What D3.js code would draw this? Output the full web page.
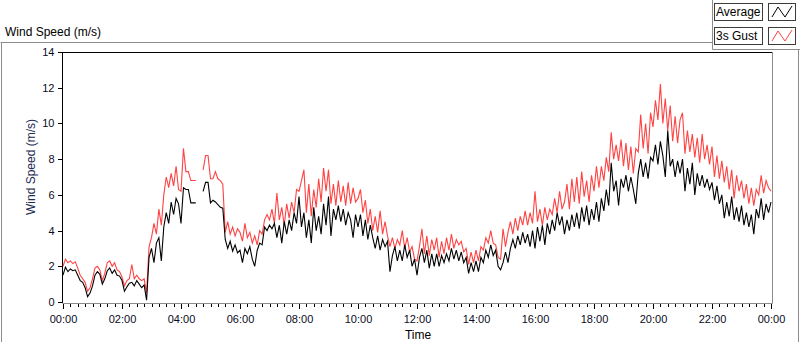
<!DOCTYPE html>
<html><head><meta charset="utf-8">
<script src="https://cdn.jsdelivr.net/npm/d3@7"></script>
<style>
html,body{margin:0;padding:0;background:#fff;}
svg{display:block;font-family:"Liberation Sans",Arial,sans-serif;}
</style></head><body>
<svg id="c" width="800" height="342"></svg>
<script>
// ---- data (one sample every 5 minutes, 00:00 .. 24:00; null = no data) ----
const sampleStepMinutes = 5;
const avgSpeed = [
 1.5,1.95,1.7,1.85,1.75,1.8,1.5,1.2,1.1,0.8,0.3,0.5,
 0.9,1.5,1.7,1.55,1.0,1.3,1.75,1.9,1.6,1.8,1.5,1.45,
 1.2,0.6,0.85,1.05,1.1,0.9,1.2,1.0,0.8,0.95,0.1,2.5,
 3.0,2.2,3.3,3.6,2.3,4.2,5.0,4.4,5.6,4.9,5.8,5.5,
 4.4,6.4,6.3,6.3,5.55,5.55,5.55,null,null,6.2,6.7,6.7,
 5.55,5.7,5.6,5.45,5.3,5.25,3.5,3.0,3.4,2.85,3.2,2.75,
 2.9,2.2,3.0,2.7,3.1,2.4,2.0,2.9,3.3,3.2,4.2,4.0,
 4.3,4.1,4.4,3.6,4.3,3.3,4.5,3.8,4.6,4.0,5.0,4.4,
 5.9,4.2,5.0,3.6,4.6,3.3,5.3,4.0,4.8,3.8,5.5,4.3,
 5.9,3.7,5.2,4.6,5.4,4.5,5.2,4.3,5.0,4.6,3.6,4.9,
 4.2,4.9,3.7,4.6,3.5,4.3,3.6,3.0,3.7,2.9,3.5,3.1,
 3.4,1.7,2.6,3.1,2.3,2.9,2.3,3.2,2.5,2.9,2.0,2.4,
 1.5,2.5,3.0,2.2,2.9,1.9,2.7,2.0,2.7,2.0,2.6,2.2,
 2.7,2.3,3.0,2.4,2.9,2.3,2.8,2.2,2.5,1.6,2.2,1.7,
 2.3,1.7,2.5,2.2,2.9,2.5,3.2,2.6,2.9,2.0,1.8,2.2,
 2.8,2.2,3.0,3.5,3.0,3.7,3.2,3.9,3.3,3.8,3.1,4.0,
 3.0,4.2,3.4,4.3,3.2,4.4,3.8,4.6,4.0,5.0,4.3,4.8,
 3.8,4.6,4.0,4.9,4.2,5.0,4.1,5.3,4.5,5.4,4.3,5.2,
 4.6,5.6,4.5,5.8,5.1,6.3,5.4,7.8,6.2,6.8,5.4,6.9,
 6.4,7.1,6.2,7.0,6.3,5.5,7.2,8.0,7.0,7.8,6.9,8.1,
 7.9,8.8,7.7,9.0,8.2,7.0,9.6,7.6,8.0,7.0,7.9,7.2,
 8.0,6.2,7.5,6.6,7.8,6.0,7.2,6.5,7.1,6.4,6.9,6.3,
 6.7,5.7,6.5,5.5,6.0,4.7,5.6,4.8,5.9,4.6,5.3,4.5,
 5.4,4.3,5.0,4.2,4.9,3.8,5.2,4.7,5.8,4.6,5.5,5.0,
 5.6
];
const gustSpeed = [
 2.0,2.4,2.2,2.3,2.15,2.25,1.9,1.5,1.3,1.1,0.6,0.8,
 1.3,1.9,2.0,1.8,1.2,1.6,2.2,2.3,2.0,2.2,1.8,1.7,
 1.4,0.9,1.2,1.3,2.1,1.3,1.5,1.3,1.2,1.3,0.5,3.1,
 3.6,4.4,3.8,5.2,4.3,6.0,7.0,6.4,7.2,6.5,7.6,6.3,
 6.2,8.6,7.3,7.3,6.8,6.8,6.8,null,null,7.4,8.2,8.2,
 6.9,6.9,7.3,6.9,6.8,6.6,3.9,4.5,3.8,4.2,3.7,4.1,
 3.9,3.4,4.4,3.6,3.9,3.3,3.7,3.2,4.0,3.8,4.6,4.9,
 4.6,5.2,4.4,6.1,4.6,5.3,4.3,5.5,4.7,5.6,5.0,6.3,
 6.2,6.8,7.4,5.0,6.6,4.8,6.3,5.3,6.9,5.6,7.5,6.2,
 7.4,5.5,6.6,5.4,6.8,5.6,6.5,5.4,6.7,5.5,6.4,5.6,
 5.8,6.3,5.0,5.7,4.4,5.2,4.0,4.8,3.9,5.1,3.8,4.5,
 3.7,3.1,3.6,3.0,3.5,3.2,4.0,3.0,3.6,2.8,3.1,2.4,
 2.3,3.1,4.1,2.7,3.7,2.6,3.5,2.9,3.6,2.5,3.4,2.7,
 3.6,2.9,3.8,3.0,3.5,3.2,3.4,2.8,3.0,2.1,2.8,2.2,
 2.9,2.3,3.1,2.9,3.6,3.3,4.0,3.3,3.2,2.5,2.4,4.1,
 3.1,3.9,4.5,3.8,4.7,4.0,4.8,4.3,5.1,4.3,5.0,4.4,
 6.2,4.5,5.2,4.3,5.3,4.6,5.2,4.9,5.8,5.0,6.2,5.2,
 5.6,6.6,5.2,6.9,5.6,7.0,5.5,7.3,5.9,6.8,5.6,7.1,
 6.2,7.6,6.4,7.6,6.8,8.1,7.3,9.5,8.0,8.8,7.9,9.1,
 7.6,8.9,7.4,8.7,7.2,8.6,8.4,10.5,8.6,10.0,8.3,10.6,
 9.8,11.3,10.2,12.2,10.0,11.4,9.6,11.0,9.0,10.4,8.9,10.2,
 10.6,8.3,9.6,8.4,9.4,8.1,9.2,7.8,9.4,8.0,8.8,7.7,
 8.7,7.0,8.2,6.9,7.9,6.7,7.6,6.3,7.4,5.8,7.1,6.2,
 6.8,5.8,6.6,5.5,6.4,5.4,6.3,6.0,7.1,6.1,6.8,6.4,
 6.2
];
const seriesNames = ["Average", "3s Gust"];
const seriesColors = ["#000000", "#ff4242"];
const yTicks = [0, 2, 4, 6, 8, 10, 12, 14];
const xMajorTicks = [0, 2, 4, 6, 8, 10, 12, 14, 16, 18, 20, 22, 24];
const chartTitle = "Wind Speed (m/s)";
const yTitle = "Wind Speed (m/s)";
const xTitle = "Time";

// ---- layout ----
const svg = d3.select("#c");
const L = 63, R = 771, T = 52, B = 302;
const x = d3.scaleLinear().domain([0, 24]).range([L, R]);
const y = d3.scaleLinear().domain([0, 14]).range([B, T]);

// outer frame
svg.append("path").attr("d", "M0.5,42.5H712.5 M1.5,42.5V342 M798.5,49V342")
  .attr("stroke", "#8c8c8c").attr("fill", "none");

svg.append("text").attr("x", 5).attr("y", 36).attr("font-size", 12).attr("fill", "#000").text(chartTitle);

// plot frame
svg.append("path").attr("d", `M${L-0.5},${T+0.5}H${R+1.5}`).attr("stroke", "#000");
svg.append("path").attr("d", `M${R+1.5},${T}V${B+1.5}`).attr("stroke", "#8c8c8c");
svg.append("path").attr("d", `M${L-0.5},${B+1.5}H${R+1.5}`).attr("stroke", "#8c8c8c");

// y axis
const yAxis = svg.append("g").attr("transform", `translate(${L-0.5},0)`)
  .call(d3.axisLeft(y).tickValues(yTicks).tickSize(5).tickPadding(3).tickFormat(d3.format("d")));
yAxis.select(".domain").attr("d", `M0,${T}V${B+1}`).attr("stroke", "#000");
yAxis.selectAll("text").attr("font-size", 11).attr("font-family", "Liberation Sans, Arial, sans-serif").attr("fill", "#0a0a1e");

// x axis: major + minor ticks
const hhmm = h => String(h % 24).padStart(2, "0") + ":00";
const xMinorTicks = d3.range(0, 24 * 4 + 1).map(i => i / 4).filter(v => v % 2 !== 0);
const xMin = svg.append("g").attr("transform", `translate(0,${B+2})`)
  .call(d3.axisBottom(x).tickValues(xMinorTicks).tickSize(3).tickFormat(""));
xMin.select(".domain").remove();
const xMaj = svg.append("g").attr("transform", `translate(0,${B+2})`)
  .call(d3.axisBottom(x).tickValues(xMajorTicks).tickSize(5).tickPadding(6).tickFormat(hhmm));
xMaj.select(".domain").remove();
xMaj.selectAll("text").attr("font-size", 11).attr("font-family", "Liberation Sans, Arial, sans-serif").attr("fill", "#0a0a1e");
svg.selectAll(".tick line").attr("shape-rendering", "crispEdges");

svg.append("text").attr("x", (L + R) / 2 + 1).attr("y", 339).attr("text-anchor", "middle")
  .attr("font-size", 12).attr("fill", "#000").text(xTitle);
svg.append("text").attr("transform", "translate(35,167) rotate(-90)").attr("text-anchor", "middle")
  .attr("font-size", 12).attr("fill", "#1c2c50").text(yTitle);

// series
const line = d3.line()
  .defined(d => d != null)
  .x((d, i) => x(i * sampleStepMinutes / 60))
  .y(d => y(d));
const plot = svg.append("g");
[[gustSpeed, seriesColors[1]], [avgSpeed, seriesColors[0]]].forEach(([data, col]) => {
  plot.append("path").attr("d", line(data)).attr("fill", "none").attr("stroke", col)
    .attr("stroke-width", 1.1).attr("stroke-linejoin", "miter");
});

// legend
svg.append("path").attr("d", "M712.5,0V49.5H800").attr("stroke", "#8c8c8c").attr("fill", "none");
const icon = d3.line();
seriesNames.forEach((name, k) => {
  const y0 = 3 + k * 24;
  svg.append("rect").attr("x", 714.5).attr("y", y0 + 0.5).attr("width", 48).attr("height", 17)
    .attr("fill", "#fff").attr("stroke", "#3c3c3c");
  svg.append("text").attr("x", 716).attr("y", y0 + 13).attr("font-size", 12).attr("fill", "#000").text(name);
  svg.append("rect").attr("x", 768.5).attr("y", y0 + 0.5).attr("width", 27).attr("height", 17)
    .attr("fill", "#fff").attr("stroke", "#3c3c3c");
  svg.append("path").attr("d", icon([[772, y0 + 14], [778, y0 + 4], [785, y0 + 14], [792, y0 + 3]]))
    .attr("fill", "none").attr("stroke", seriesColors[k]);
});
</script>
</body></html>
